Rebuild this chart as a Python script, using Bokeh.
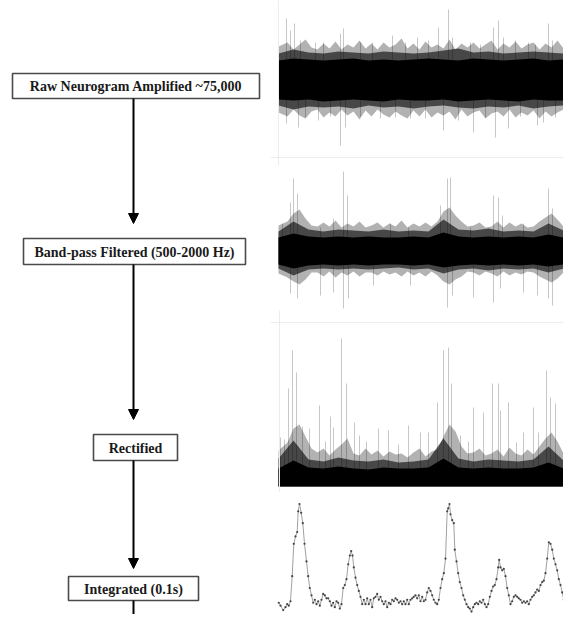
from bokeh.plotting import figure
from bokeh.layouts import row, column
from bokeh.models import Range1d, Arrow, NormalHead, Span, ColumnDataSource
from bokeh.core.properties import value
from bokeh.embed import file_html
from bokeh.resources import INLINE

# ---------------- data ----------------
steps = ["Raw Neurogram Amplified ~75,000", "Band-pass Filtered (500-2000 Hz)",
         "Rectified", "Integrated (0.1s)"]

# envelope sample times (arbitrary time units)
env_t = [0, 15, 30, 45, 60, 75, 90, 105, 120, 135, 150, 165, 180, 195, 210, 225, 240, 255, 270, 285, 300]
# times of the ragged outer edge of the noise band
hair_t = [0, 9, 15, 21, 27, 33, 39, 45, 51, 57, 63, 69, 75, 81, 87, 93, 99, 105, 111, 117,
          123, 129, 135, 141, 147, 153, 159, 165, 171, 177, 183, 189, 195, 201, 207, 213, 219, 225, 231, 237,
          243, 249, 255, 261, 267, 273, 279, 285, 291, 297]

# panel 1: raw neurogram
raw_core_top = [20, 22, 21, 20, 21, 22, 20, 21, 20, 21, 22, 21, 20, 22, 21, 20, 21, 22, 20, 21, 20]
raw_core_bot = [-19, -20, -19, -21, -20, -19, -20, -21, -19, -20, -20, -19, -21, -20, -19, -20, -21, -19, -20, -20, -19]
raw_fuzz_top = [27, 31, 28, 27, 29, 28, 27, 29, 28, 27, 28, 30, 32, 28, 29, 27, 28, 29, 28, 27, 29]
raw_fuzz_bot = [-25, -29, -26, -27, -26, -28, -25, -27, -26, -28, -26, -25, -27, -28, -26, -27, -25, -28, -26, -25, -27]
raw_hair_up = [34, 38, 31, 36, 41, 33, 31, 37, 32, 39, 31, 36, 33, 40, 32, 37, 31, 38, 33, 36,
               42, 32, 37, 31, 39, 33, 36, 32, 41, 31, 37, 33, 38, 32, 36, 40, 31, 37, 33, 39,
               32, 36, 38, 31, 37, 33, 40, 32, 36, 33]
raw_hair_dn = [-32, -36, -29, -35, -38, -31, -29, -37, -32, -36, -29, -35, -31, -39, -30, -36, -29, -34, -37, -31,
               -35, -38, -30, -36, -29, -37, -32, -35, -31, -39, -29, -36, -32, -30, -38, -33, -31, -36, -29, -37,
               -32, -35, -30, -38, -31, -36, -32, -29, -37, -33]
raw_spike_t = [8, 16, 12, 65, 62, 45, 37, 114, 139, 160, 170, 174, 215, 220, 225, 237, 270, 274, 287,
               22, 82, 94, 127, 150, 192, 202, 250, 257,
               8, 20, 62, 67, 40, 102, 132, 165, 180, 195, 217, 230, 259, 265, 297,
               27, 52, 82, 117, 147, 207, 242, 277]
raw_spike_a = [62, 57, 50, 52, 47, 38, 38, 45, 43, 53, 71, 43, 53, 60, 43, 40, 57, 40, 38,
               40, 38, 38, 38, 40, 38, 36, 38, 36,
               -43, -47, -65, -47, -40, -38, -38, -50, -40, -52, -57, -48, -45, -42, -38,
               -37, -36, -36, -37, -38, -37, -36, -37]

# panel 2: band-pass filtered
bp_core_top = [14, 18, 15, 14, 15, 14, 15, 14, 14, 15, 14, 19, 15, 14, 15, 14, 15, 14, 17, 14, 15]
bp_core_bot = [-13, -17, -14, -13, -14, -13, -14, -13, -13, -14, -13, -16, -14, -13, -14, -13, -14, -13, -15, -13, -14]
bp_fuzz_top = [20, 30, 22, 20, 22, 21, 20, 22, 20, 21, 20, 32, 22, 21, 23, 20, 21, 20, 28, 21, 20]
bp_fuzz_bot = [-17, -24, -18, -17, -18, -17, -18, -17, -16, -18, -17, -22, -18, -17, -19, -17, -18, -17, -21, -17, -18]
bp_hair_up = [26, 30, 38, 42, 33, 26, 25, 29, 25, 31, 24, 28, 25, 30, 24, 26, 29, 24, 28, 25,
              31, 24, 28, 25, 29, 25, 30, 40, 44, 36, 30, 25, 26, 29, 24, 25, 30, 24, 29, 25,
              28, 24, 25, 30, 34, 38, 32, 25, 26, 28]
bp_hair_dn = [-22, -26, -30, -33, -28, -21, -21, -25, -20, -26, -21, -24, -20, -25, -21, -21, -24, -20, -23, -21,
              -25, -20, -24, -21, -25, -20, -24, -30, -33, -28, -25, -20, -21, -24, -20, -22, -25, -20, -24, -21,
              -23, -20, -21, -25, -28, -31, -27, -21, -22, -24]
bp_spike_t = [15, 19, 12, 4, 65, 69, 55, 42, 112, 130, 169, 172, 162, 215, 220, 224, 270, 274, 290, 245, 192,
              12, 19, 42, 65, 70, 55, 95, 132, 169, 174, 195, 215, 222, 245, 259, 270, 274, 295]
bp_spike_a = [73, 58, 49, 28, 80, 56, 33, 24, 28, 24, 73, 74, 46, 56, 54, 36, 63, 43, 28, 28, 24,
              -42, -47, -44, -57, -47, -41, -34, -34, -56, -44, -46, -51, -37, -41, -44, -47, -54, -41]

# panel 3: rectified
rect_core = [18, 26, 19, 18, 20, 18, 17, 19, 18, 18, 19, 28, 19, 18, 19, 18, 18, 19, 24, 18, 18]
rect_fuzz = [28, 46, 27, 25, 29, 26, 25, 27, 24, 25, 27, 48, 28, 25, 27, 26, 25, 27, 40, 26, 25]
rect_hair = [36, 44, 58, 62, 50, 38, 34, 38, 31, 37, 42, 48, 33, 31, 38, 32, 36, 30, 35, 32,
             33, 29, 34, 38, 30, 35, 37, 50, 62, 55, 40, 33, 34, 38, 31, 33, 37, 30, 39, 33,
             31, 37, 32, 40, 48, 54, 45, 33, 34, 37]
rect_spike_t = [14, 18, 10, 2, 31, 41, 52, 55, 63, 68, 76, 81, 100, 110, 130, 142, 150, 159, 165, 170,
                173, 182, 195, 205, 214, 220, 222, 230, 245, 255, 260, 268, 272, 277, 294, 297,
                6, 24, 47, 88, 120, 190, 238, 285]
rect_spike_a = [136, 114, 98, 49, 58, 81, 70, 59, 148, 103, 64, 51, 58, 56, 61, 54, 54, 84, 136, 139,
                103, 51, 79, 74, 103, 103, 76, 84, 54, 79, 54, 116, 89, 83, 73, 59,
                47, 60, 45, 45, 42, 45, 44, 45]

# panel 4: integrated (0.1 s)
int_t = [0.3, 2, 4.7, 7, 8.7, 10.3, 12, 13.7, 15.3, 17, 18.7, 19.7, 21, 22.7, 24.3, 26, 28, 29.7, 31.3, 33,
         34.7, 36.3, 38, 39.7, 41.3, 43, 44.7, 46.3, 48, 49.7, 51.3, 53, 54.7, 56.3, 58, 59.7, 61.3, 63,
         64.7, 66.3, 68, 69.7, 71.3, 72.7, 74, 75.3, 77, 78.7, 80.3, 82, 83.7, 85.3, 87, 88.7, 90.3, 92,
         93.7, 95.3, 97, 98.7, 100.3, 102, 103.7, 105.3, 107, 108.7, 110.3, 112, 113.7, 115.3, 117, 118.7,
         120.3, 122, 123.7, 125.3, 127, 128.7, 130.3, 132, 133.7, 135.3, 137, 138.7, 140.3, 142, 143.7,
         145.3, 147, 148.7, 150.3, 152, 153.7, 155.3, 157, 158.7, 160.3, 162, 163.7, 165.3, 167, 168.7,
         169.7, 171, 172, 173.7, 175.3, 176.3, 178, 179.7, 181.3, 183, 184.7, 186.3, 188, 189.7, 191.3,
         193, 194.7, 196.3, 198, 199.7, 201.3, 203, 204.7, 206.3, 208, 209.7, 211.3, 213, 214.7, 216.3,
         218, 219.7, 220.7, 222, 223.7, 225.3, 227, 228.7, 230.3, 232, 233.7, 235.3, 237, 238.7, 240.3,
         242, 243.7, 245.3, 247, 248.7, 250.3, 252, 253.7, 255.3, 257, 258.7, 260.3, 262, 263.7, 265.3,
         267, 268.7, 270.3, 272, 273.7, 275.3, 277, 278.7, 280.3, 282, 283.7, 285.3, 287, 288.7, 290.3,
         292, 293.7, 295.3, 297, 298.7, 301]
int_a = [13.3, 10, 5, 8.3, 11.7, 10, 15, 43.3, 80, 88.3, 93.3, 116.7, 125, 115, 103.3, 80, 60, 43.3, 30, 21.7,
         13.3, 16.7, 11.7, 15, 10, 16.7, 23.3, 21.7, 18.3, 18.3, 15, 10, 13.3, 8.3, 15, 13.3, 6.7, 11.7,
         30, 33.3, 40, 56.7, 66.7, 71.7, 66.7, 53.3, 41.7, 33.3, 26.7, 20, 11.7, 16.7, 11.7, 18.3, 11.7, 16.7,
         8.3, 18.3, 20, 23.3, 16.7, 20, 15, 11.7, 15, 8.3, 13.3, 11.7, 16.7, 15, 18.3, 16.7,
         13.3, 15, 11.7, 15, 11.7, 16.7, 11.7, 16.7, 18.3, 20, 21.7, 18.3, 21.7, 15, 20,
         15, 16.7, 25, 30, 26.7, 21.7, 16.7, 13.3, 11.7, 16.7, 30, 40, 46.7, 63.3, 116.7,
         120, 125, 113.3, 106.7, 103.3, 73.3, 60, 46.7, 36.7, 30, 21.7, 16.7, 11.7, 8.3, 6.7,
         3.3, 8.3, 11.7, 13.3, 11.7, 15, 13.3, 16.7, 11.7, 8.3, 11.7, 20, 26.7, 31.7, 33.3,
         40, 53.3, 61.7, 53.3, 50, 51.7, 43.3, 30, 21.7, 11.7, 15, 20, 21.7, 20, 18.3,
         16.7, 13.3, 15, 13.3, 15, 11.7, 16.7, 20, 21.7, 25, 28.3, 26.7, 33.3, 36.7, 38.3,
         46.7, 63.3, 81.7, 80, 73.3, 63.3, 56.7, 50, 40, 33.3, 25, 16.7, 13.3, 11.7, 13.3,
         16.7, 18.3, 15, 16.7, 15, 13.3]


def make_fig(w, h, xr, yr):
    f = figure(width=w, height=h, x_range=xr, y_range=yr, output_backend="svg",
               toolbar_location=None, min_border=0, x_axis_location=None,
               y_axis_location=None, outline_line_color=None,
               background_fill_color="white", border_fill_color="white")
    f.xgrid.visible = False
    f.ygrid.visible = False
    return f


# ---------------- flowchart ----------------
left = make_fig(270, 614, Range1d(0, 270), Range1d(614, 0))
box_l = [12, 23, 93, 68]
box_r = [259, 245, 177, 198]
box_t = [73, 238, 434, 576]
box_b = [98, 264, 460, 600]
left.quad(left=box_l, right=box_r, top=box_t, bottom=box_b, fill_color="white",
          line_color="#4a4a4a", line_width=1.6)
left.text(x=[(a + b) / 2 for a, b in zip(box_l, box_r)],
          y=[(a + b) / 2 + 0.5 for a, b in zip(box_t, box_b)], text=steps,
          text_align="center", text_baseline="middle", text_color="#1a1a1a",
          text_font=value("Liberation Serif"), text_font_style="bold",
          text_font_size="14px")
ax = 133
tips = [223, 419, 568]
for yb, tip in zip(box_b[:3], tips):
    left.add_layout(Arrow(end=NormalHead(size=10, fill_color="black", line_color="black"),
                          x_start=ax, y_start=yb, x_end=ax, y_end=tip,
                          line_width=2, line_color="black"))
left.segment(x0=[ax], y0=[box_b[3]], x1=[ax], y1=[630], line_width=2, line_color="black")

XR = (-8, 285)
SPIKE = dict(line_color="black", line_alpha=0.22, line_width=1)


def band(f, hair_lo, hair_hi, fz_lo, fz_hi, core_lo, core_hi):
    f.varea(x=hair_t, y1=hair_lo, y2=hair_hi, fill_color="black", fill_alpha=0.3)
    f.varea(x=env_t, y1=fz_lo, y2=fz_hi, fill_color="black", fill_alpha=0.6)
    f.varea(x=env_t, y1=core_lo, y2=core_hi, fill_color="black", fill_alpha=1)


# panel 1
p1 = make_fig(293, 165, Range1d(*XR), Range1d(-85, 80))
p1.add_layout(Span(location=0, dimension="height", line_color="#ececec", line_width=1))
p1.add_layout(Span(location=-77, dimension="width", line_color="#ececec", line_width=1))
p1.segment(x0=raw_spike_t, y0=[0] * len(raw_spike_t), x1=raw_spike_t, y1=raw_spike_a, **SPIKE)
band(p1, raw_hair_dn, raw_hair_up, raw_fuzz_bot, raw_fuzz_top, raw_core_bot, raw_core_top)

# panel 2
p2 = make_fig(293, 145, Range1d(*XR), Range1d(-59, 86))
p2.segment(x0=bp_spike_t, y0=[0] * len(bp_spike_t), x1=bp_spike_t, y1=bp_spike_a, **SPIKE)
band(p2, bp_hair_dn, bp_hair_up, bp_fuzz_bot, bp_fuzz_top, bp_core_bot, bp_core_top)

# panel 3
p3 = make_fig(293, 182, Range1d(*XR), Range1d(-6, 176))
p3.add_layout(Span(location=1, dimension="height", line_color="#ececec", line_width=1))
p3.add_layout(Span(location=164, dimension="width", line_color="#ececec", line_width=1))
p3.segment(x0=rect_spike_t, y0=[0] * len(rect_spike_t), x1=rect_spike_t, y1=rect_spike_a, **SPIKE)
band(p3, [0] * len(hair_t), rect_hair, [0] * len(env_t), rect_fuzz, [0] * len(env_t), rect_core)

# panel 4
p4 = make_fig(293, 122, Range1d(*XR), Range1d(0, 138))
src4 = ColumnDataSource(dict(t=int_t, a=int_a))
p4.line("t", "a", source=src4, line_color="#a0a0a0", line_width=1)
p4.scatter("t", "a", source=src4, size=2.2, fill_color="#444444", line_color=None)

layout = row(left, column(p1, p2, p3, p4, spacing=0), spacing=0)

open("out.html", "w").write(file_html(layout, INLINE))
